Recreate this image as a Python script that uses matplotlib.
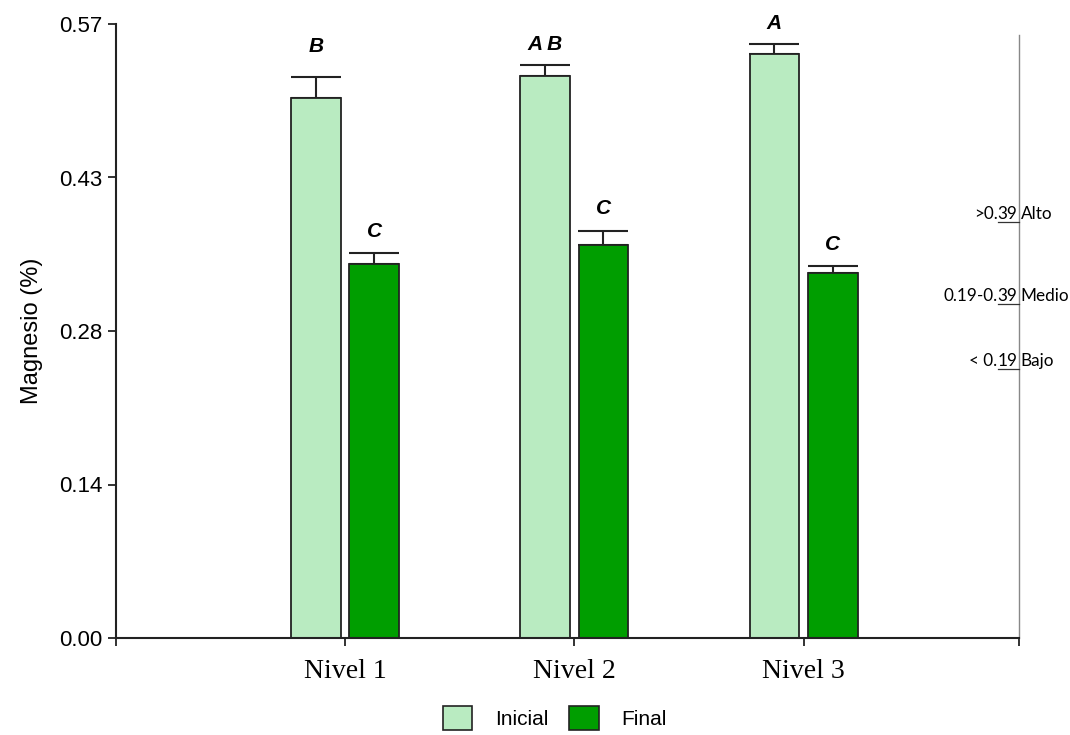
import matplotlib
matplotlib.use("Agg")
import matplotlib.pyplot as plt
from matplotlib.patches import Patch
from matplotlib.lines import Line2D
import numpy as np

plt.rcParams['font.family'] = ['Liberation Sans', 'DejaVu Sans']

niveles = ['Nivel 1', 'Nivel 2', 'Nivel 3']
inicial = [0.501, 0.522, 0.542]
final = [0.347, 0.365, 0.339]
inicial_err = [0.020, 0.010, 0.0095]
final_err = [0.010, 0.013, 0.006]
letras_inicial = ['B', 'A B', 'A']
letras_final = ['C', 'C', 'C']
yticks = [0, 0.1425, 0.285, 0.4275, 0.57]
ytick_labels = ['0.00', '0.14', '0.28', '0.43', '0.57']
rangos = [('>0.', '39', 'Alto'), ('0.19-0.', '39', 'Medio'), ('< 0.', '19', 'Bajo')]

W, H = 1070, 735
fig = plt.figure(figsize=(W / 100, H / 100), dpi=100)
ax = fig.add_axes([116 / W, 97 / H, 903 / W, 614 / H])

x = np.arange(1, len(niveles) + 1)
ancho = 0.217
desp = 0.127
c_ini = '#b9ebc1'
c_fin = '#009e00'

ax.errorbar(x - desp, inicial, yerr=[np.zeros(3), inicial_err], fmt='none',
            ecolor='#222222', elinewidth=1.5, capsize=18, capthick=1.5, zorder=1)
ax.errorbar(x + desp, final, yerr=[np.zeros(3), final_err], fmt='none',
            ecolor='#222222', elinewidth=1.5, capsize=18, capthick=1.5, zorder=1)
ax.bar(x - desp, inicial, ancho, color=c_ini, edgecolor='#222222', linewidth=1.3, zorder=2)
ax.bar(x + desp, final, ancho, color=c_fin, edgecolor='#222222', linewidth=1.3, zorder=2)

# letras de significancia
off_ini = [22, 15, 15]
for i in range(3):
    ax.annotate(letras_inicial[i], (x[i] - desp, inicial[i] + inicial_err[i]),
                xytext=(0, off_ini[i]), textcoords='offset points', ha='center', va='center',
                fontsize=15, fontweight='bold', fontstyle='italic')
    ax.annotate(letras_final[i], (x[i] + desp, final[i] + final_err[i]),
                xytext=(0, 16), textcoords='offset points', ha='center', va='center',
                fontsize=15, fontweight='bold', fontstyle='italic')

xmax = 3.94
ax.set_xlim(0, xmax)
ax.set_ylim(0, 0.57)
ax.set_yticks(yticks)
ax.set_yticklabels(ytick_labels, fontsize=16)
ax.set_xticks([0, 1, 2, 3, xmax])
ax.set_xticklabels(['', niveles[0], niveles[1], niveles[2], ''],
                   fontsize=20, family='Liberation Serif')
ax.tick_params(axis='both', direction='out', length=6, width=1.3, color='#222222')
ax.tick_params(axis='x', pad=9)
ax.set_ylabel('Magnesio (%)', fontsize=17, labelpad=12)

ax.spines['top'].set_visible(False)
ax.spines['right'].set_color('#888888')
ax.spines['right'].set_linewidth(1.0)
ax.spines['right'].set_bounds(0, 0.56)
ax.spines['left'].set_linewidth(1.5)
ax.spines['bottom'].set_linewidth(1.5)
ax.spines['left'].set_color('#222222')
ax.spines['bottom'].set_color('#222222')

# rangos de interpretacion a la derecha
fig.canvas.draw()
r = fig.canvas.get_renderer()
xl = 1019
bases = [219, 301, 366]
fs = 12.3
for (pre, und, palabra), yb in zip(rangos, bases):
    yf = 1 - yb / H
    t = fig.text((xl - 1.5) / W, yf, und, ha='right', va='baseline', fontsize=fs, family='Lato')
    bb = t.get_window_extent(renderer=r)
    fig.text(bb.x0 / W, yf, pre, ha='right', va='baseline', fontsize=fs, family='Lato')
    fig.text((xl + 1.5) / W, yf, palabra, ha='left', va='baseline', fontsize=fs, family='Lato')
    fig.add_artist(Line2D([bb.x0 / W, xl / W], [yf - 3 / H, yf - 3 / H], color='#333333', lw=0.9))

handles = [Patch(facecolor=c_ini, edgecolor='#222222', linewidth=1.2),
           Patch(facecolor=c_fin, edgecolor='#222222', linewidth=1.2)]
fig.legend(handles, ['Inicial', 'Final'], loc='center', bbox_to_anchor=(555 / W, 1 - 718 / H),
           ncol=2, frameon=False, fontsize=15, handlelength=1.4, handleheight=1.4,
           handletextpad=1.1, columnspacing=1.0)

fig.savefig('out.png', dpi=100)
